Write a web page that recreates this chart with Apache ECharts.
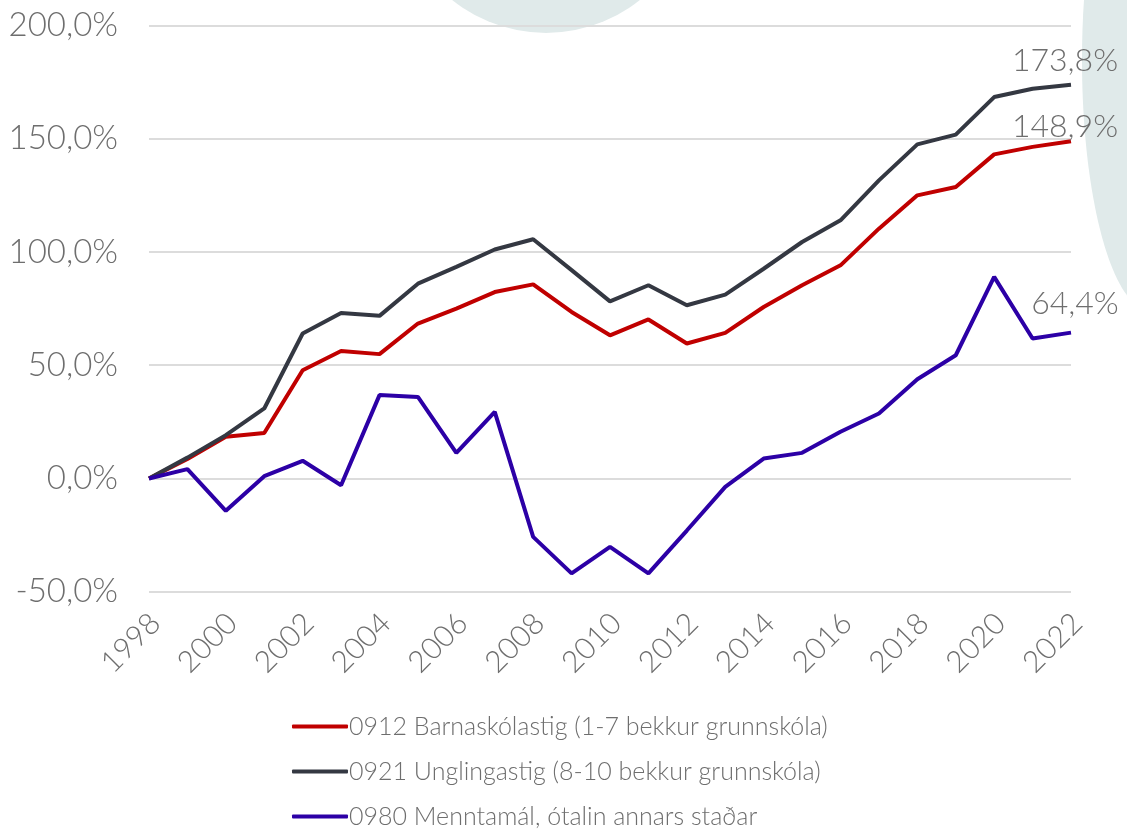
<!DOCTYPE html>
<html>
<head>
<meta charset="utf-8">
<script src="https://cdn.jsdelivr.net/npm/echarts@6/dist/echarts.min.js"></script>
<style>
  html, body { margin: 0; padding: 0; background: #fff; }
  #chart { width: 1127px; height: 830px; }
</style>
</head>
<body>
<div id="chart"></div>
<script>
  // ár
  var years = ['1998','1999','2000','2001','2002','2003','2004','2005','2006','2007','2008','2009',
               '2010','2011','2012','2013','2014','2015','2016','2017','2018','2019','2020','2021','2022']
  // uppsöfnuð breyting frá 1998, %
  var barna = [0, 8.6, 18.4, 20.1, 47.8, 56.3, 54.9, 68.4, 75.0, 82.3, 85.7, 73.5,
               63.2, 70.2, 59.6, 64.3, 75.7, 85.3, 94.1, 110.3, 125.0, 128.7, 143.1, 146.4, 148.9]
  var ungl = [0, 9.2, 19.1, 30.9, 64.0, 73.1, 71.8, 86.0, 93.4, 101.1, 105.6, 92.0,
              78.2, 85.3, 76.5, 81.2, 92.6, 104.4, 114.0, 131.6, 147.5, 151.8, 168.4, 172.1, 173.8]
  var mennt = [0, 4.1, -14.3, 1.0, 7.8, -3.0, 36.8, 36.0, 11.3, 29.4, -25.8, -41.9,
               -30.2, -41.9, -23.0, -3.7, 8.8, 11.3, 20.6, 28.7, 43.8, 54.4, 89.0, 61.8, 64.4]
  var names = ['0912 Barnaskólastig (1-7 bekkur grunnskóla)',
               '0921 Unglingastig (8-10 bekkur grunnskóla)',
               '0980 Menntamál, ótalin annars staðar']
  var colors = ['#c00000', '#343842', '#2c00a6']

  var txt = '#6e6e6e'
  var font = 'Lato, "Noto Sans", sans-serif'

  function pct(v){
    return v.toFixed(1).replace('.', ',') + '%'
  }

  function line(name, data, color, off){
    return {
      name: name,
      type: 'line',
      data: data,
      symbol: 'none',
      lineStyle: { color: color, width: 4 },
      itemStyle: { color: color },
      // merkimiði við enda línunnar
      endLabel: {
        show: true,
        distance: 0,
        align: 'center',
        verticalAlign: 'middle',
        offset: off,
        color: txt,
        fontFamily: font,
        fontWeight: 300,
        fontSize: 32,
        formatter: function(p){ return pct(p.value) }
      },
      z: 3
    }
  }

  var chart = echarts.init(document.getElementById('chart'))
  chart.setOption({
    animation: false,
    backgroundColor: '#fff',
    graphic: [
      { type: 'circle', shape: { cx: 546, cy: -117, r: 150 }, style: { fill: '#e0eaea' }, z: -10, silent: true },
      { type: 'ellipse', shape: { cx: 1150, cy: 60, rx: 68, ry: 250 }, style: { fill: '#e0eaea' }, z: -10, silent: true }
    ],
    grid: { left: 149, right: 56, top: 25.5, bottom: 238.3, containLabel: false },
    legend: {
      orient: 'vertical',
      left: 292,
      top: 714,
      height: 140,
      padding: 0,
      itemWidth: 56,
      itemHeight: 4,
      itemGap: 20,
      icon: 'roundRect',
      data: names,
      textStyle: { color: txt, fontFamily: font, fontWeight: 300, fontSize: 25, lineHeight: 24, padding: [0, 0, 0, -4] }
    },
    xAxis: {
      type: 'category',
      boundaryGap: false,
      data: years,
      axisLine: { show: false },
      axisTick: { show: false },
      axisLabel: {
        interval: 1,
        rotate: 45,
        margin: 33,
        padding: [0, -9, 0, 0],
        color: txt,
        fontFamily: font,
        fontWeight: 300,
        fontSize: 30
      }
    },
    yAxis: {
      type: 'value',
      min: -50,
      max: 200,
      interval: 50,
      axisLine: { show: false },
      axisTick: { show: false },
      splitLine: { lineStyle: { color: '#dcdcdc', width: 2 } },
      axisLabel: {
        margin: 31,
        color: txt,
        fontFamily: font,
        fontWeight: 300,
        fontSize: 33,
        formatter: pct
      }
    },
    series: [
      line(names[0], barna, colors[0], [-6, -15]),
      line(names[1], ungl, colors[1], [-6, -24]),
      line(names[2], mennt, colors[2], [4, -29])
    ]
  })
</script>
</body>
</html>
